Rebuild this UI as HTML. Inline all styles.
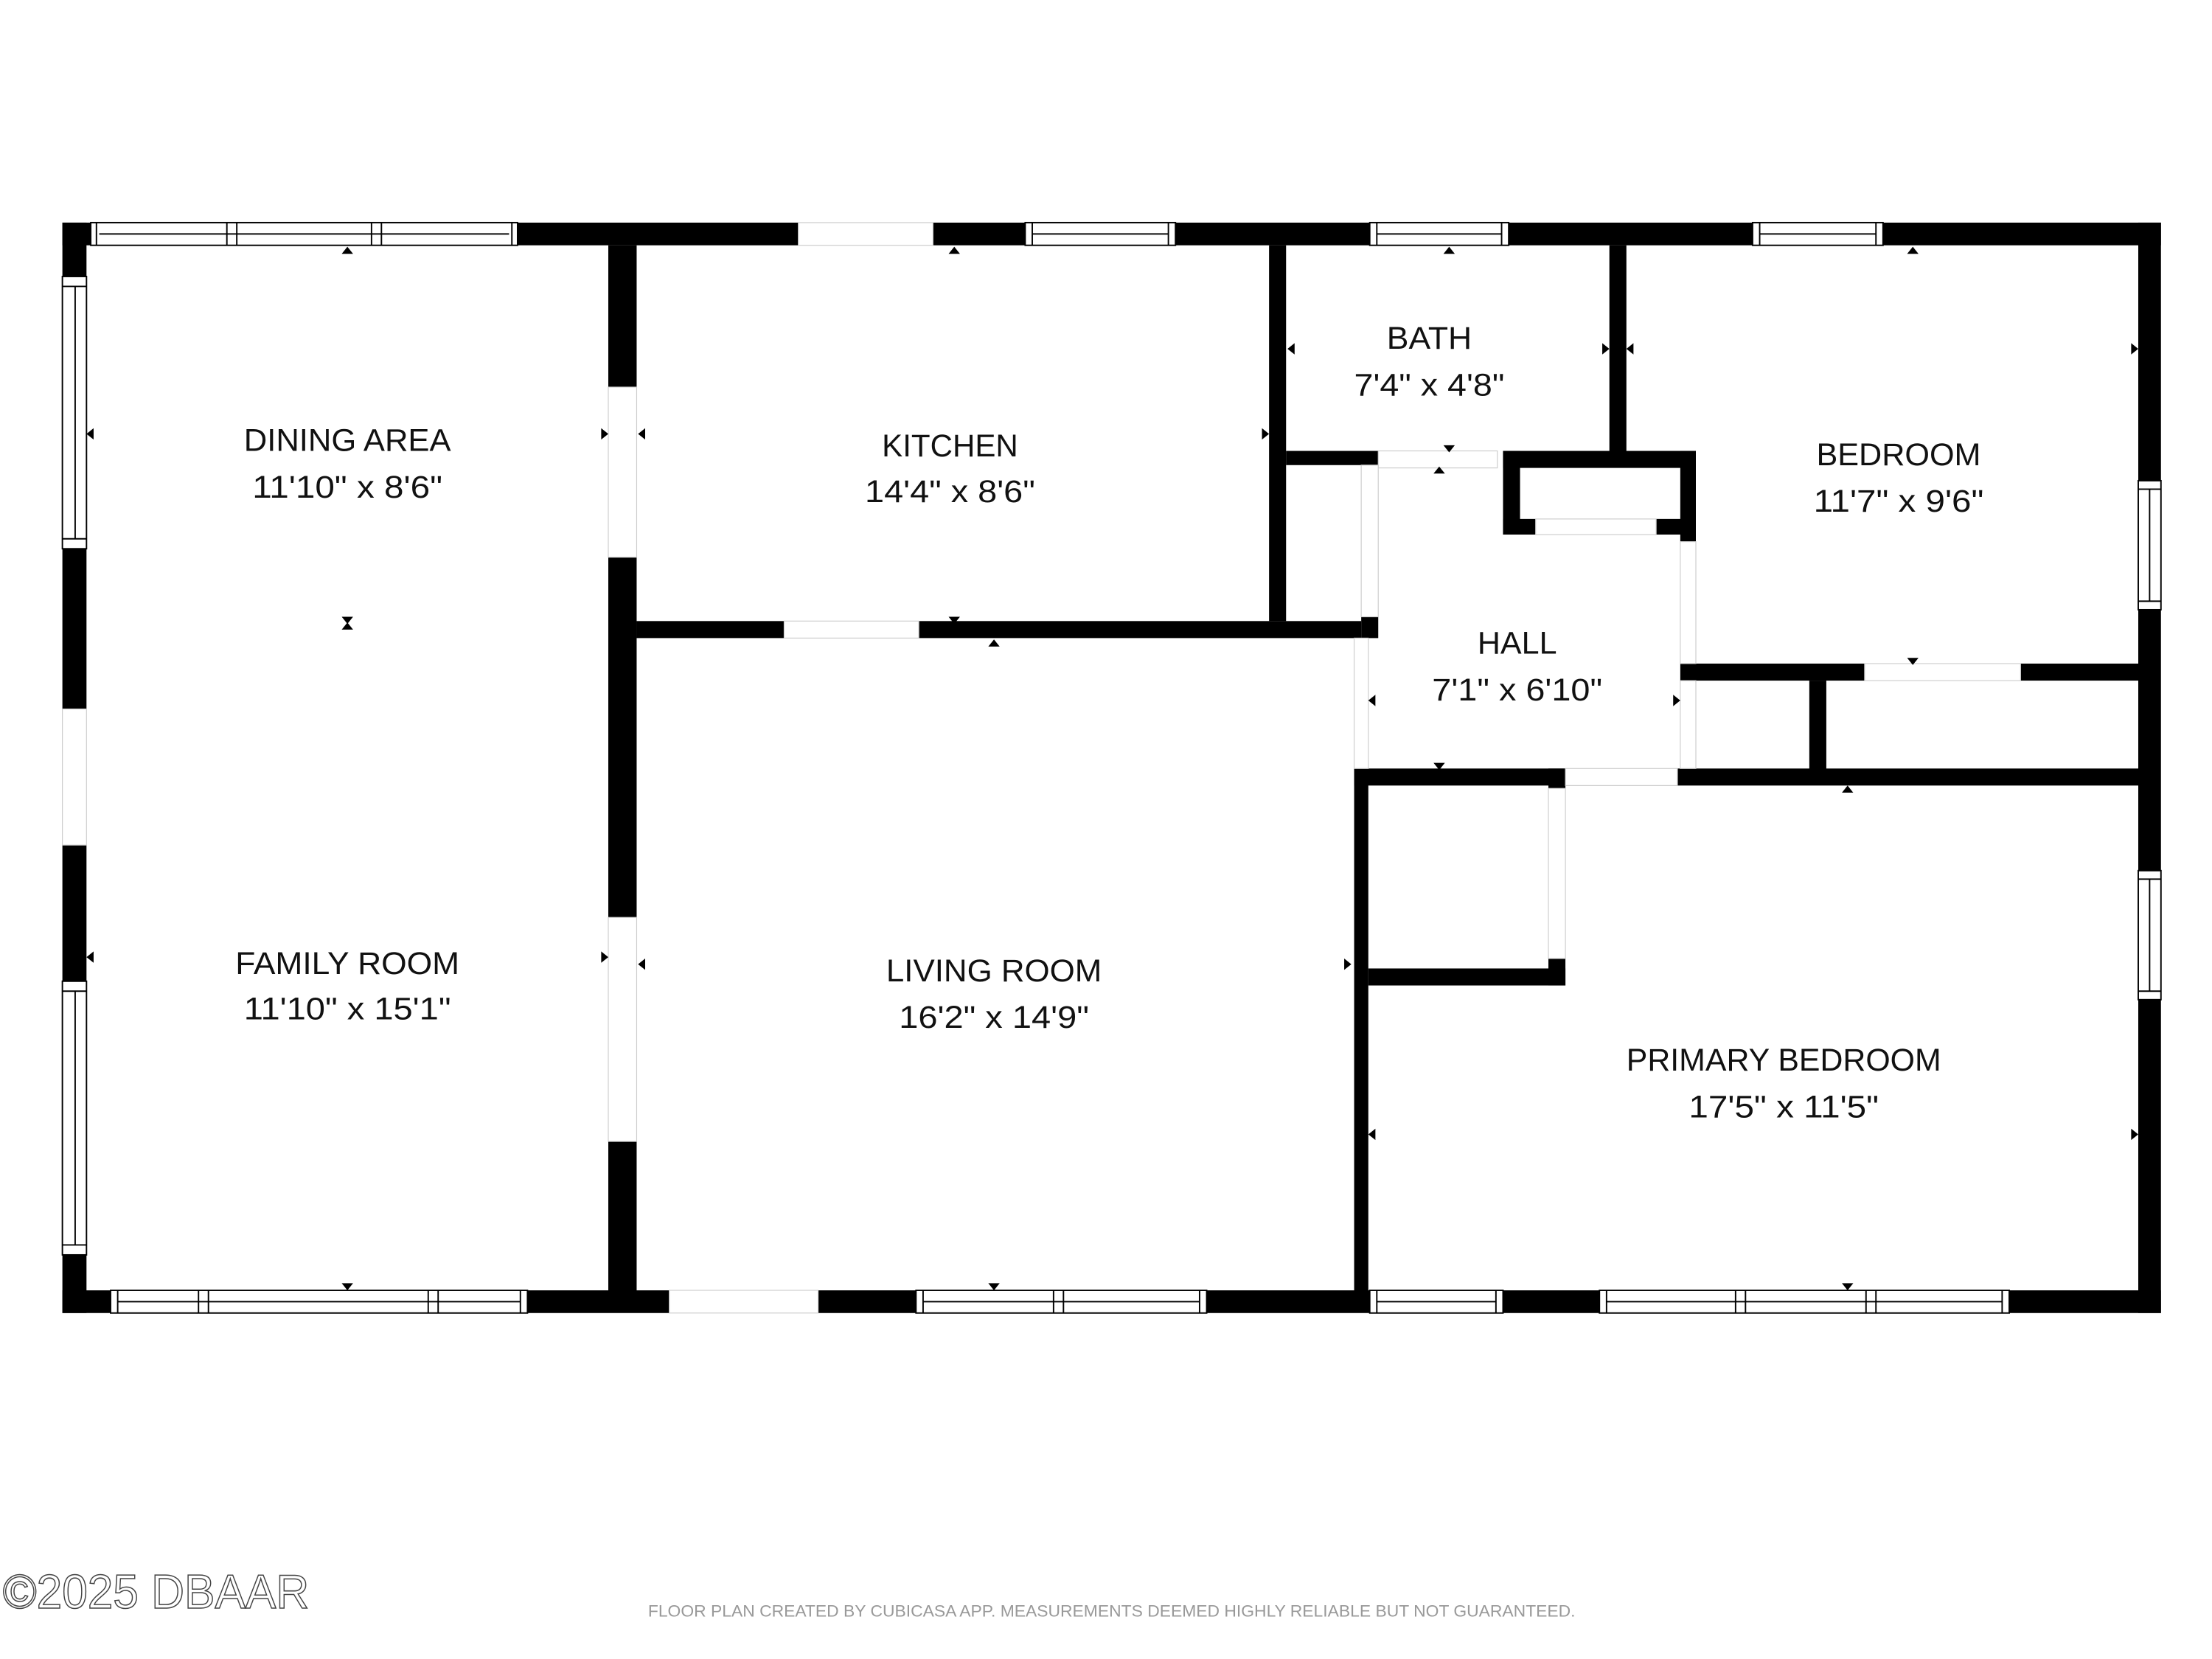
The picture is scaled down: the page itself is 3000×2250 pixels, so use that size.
<!DOCTYPE html>
<html><head><meta charset="utf-8"><style>
html,body{margin:0;padding:0;background:#fff;}
svg{display:block;}
.t{font-family:"Liberation Sans",sans-serif;font-size:22px;fill:#111;text-anchor:middle;}
.w{fill:#fff;stroke:#000;stroke-width:1;}
.o{fill:#fff;stroke:#ccc;stroke-width:0.6;}
</style></head><body>
<svg width="3000" height="2250" viewBox="0 0 1560 1170" xmlns="http://www.w3.org/2000/svg">
<rect width="1560" height="1170" fill="#fff"/>
<g fill="#000">
<!-- outer walls -->
<rect x="44" y="157" width="1480" height="16"/>
<rect x="44" y="910" width="1480" height="16"/>
<rect x="44" y="157" width="17" height="769"/>
<rect x="1508" y="157" width="16" height="769"/>
<!-- interior -->
<rect x="429" y="173" width="20" height="100"/>
<rect x="429" y="393" width="20" height="254"/>
<rect x="429" y="805" width="20" height="105"/>
<rect x="449" y="438" width="511" height="12"/>
<rect x="895" y="173" width="12" height="265"/>
<rect x="907" y="318" width="65" height="10"/>
<rect x="1060" y="318" width="136" height="12"/>
<rect x="1060" y="318" width="12" height="59"/>
<rect x="1060" y="366" width="23" height="11"/>
<rect x="1185" y="318" width="11" height="64"/>
<rect x="1168" y="366" width="28" height="11"/>
<rect x="1135" y="173" width="12" height="152"/>
<rect x="960" y="435" width="12" height="15"/>
<rect x="1185" y="468" width="130" height="12"/>
<rect x="1425" y="468" width="83" height="12"/>
<rect x="1276" y="480" width="12" height="68"/>
<rect x="955" y="542" width="149" height="12"/>
<rect x="1183" y="542" width="325" height="12"/>
<rect x="955" y="542" width="10" height="368"/>
<rect x="965" y="683" width="139" height="12"/>
<rect x="1092" y="676" width="12" height="19"/>
<rect x="1092" y="542" width="12" height="14"/>
</g>
<!-- openings -->
<rect class="o" x="563" y="157" width="95" height="16"/>
<rect class="o" x="44" y="500" width="17" height="96"/>
<rect class="o" x="472" y="910" width="105" height="16"/>
<rect class="o" x="553" y="438" width="95" height="12"/>
<rect class="o" x="429" y="273" width="20" height="120"/>
<rect class="o" x="429" y="647" width="20" height="158"/>
<rect class="o" x="972" y="318" width="84" height="12"/>
<rect class="o" x="960" y="328" width="12" height="107"/>
<rect class="o" x="955" y="450" width="10" height="92"/>
<rect class="o" x="1185" y="382" width="11" height="86"/>
<rect class="o" x="1185" y="480" width="11" height="62"/>
<rect class="o" x="1315" y="468" width="110" height="12"/>
<rect class="o" x="1104" y="542" width="79" height="12"/>
<rect class="o" x="1092" y="556" width="12" height="120"/>
<rect class="o" x="1083" y="366" width="85" height="11"/>
<!-- windows top -->
<g>
<rect class="w" x="64" y="157" width="301" height="16"/>
<line x1="70" y1="165" x2="359" y2="165" stroke="#000"/>
<line x1="68" y1="157" x2="68" y2="173" stroke="#000"/>
<line x1="361" y1="157" x2="361" y2="173" stroke="#000"/>
<line x1="160" y1="157" x2="160" y2="173" stroke="#000"/><line x1="167" y1="157" x2="167" y2="173" stroke="#000"/>
<line x1="262" y1="157" x2="262" y2="173" stroke="#000"/><line x1="269" y1="157" x2="269" y2="173" stroke="#000"/>
<rect class="w" x="723" y="157" width="106" height="16"/><line x1="728" y1="165" x2="824" y2="165" stroke="#000"/>
<line x1="728" y1="157" x2="728" y2="173" stroke="#000"/><line x1="824" y1="157" x2="824" y2="173" stroke="#000"/>
<rect class="w" x="966" y="157" width="98" height="16"/><line x1="971" y1="165" x2="1059" y2="165" stroke="#000"/>
<line x1="971" y1="157" x2="971" y2="173" stroke="#000"/><line x1="1059" y1="157" x2="1059" y2="173" stroke="#000"/>
<rect class="w" x="1236" y="157" width="92" height="16"/><line x1="1241" y1="165" x2="1323" y2="165" stroke="#000"/>
<line x1="1241" y1="157" x2="1241" y2="173" stroke="#000"/><line x1="1323" y1="157" x2="1323" y2="173" stroke="#000"/>
</g>
<!-- windows bottom -->
<g>
<rect class="w" x="78" y="910" width="294" height="16"/><line x1="83" y1="918" x2="367" y2="918" stroke="#000"/>
<line x1="83" y1="910" x2="83" y2="926" stroke="#000"/><line x1="367" y1="910" x2="367" y2="926" stroke="#000"/>
<line x1="140" y1="910" x2="140" y2="926" stroke="#000"/><line x1="147" y1="910" x2="147" y2="926" stroke="#000"/>
<line x1="302" y1="910" x2="302" y2="926" stroke="#000"/><line x1="309" y1="910" x2="309" y2="926" stroke="#000"/>
<rect class="w" x="646" y="910" width="205" height="16"/><line x1="651" y1="918" x2="846" y2="918" stroke="#000"/>
<line x1="651" y1="910" x2="651" y2="926" stroke="#000"/><line x1="846" y1="910" x2="846" y2="926" stroke="#000"/>
<line x1="743" y1="910" x2="743" y2="926" stroke="#000"/><line x1="750" y1="910" x2="750" y2="926" stroke="#000"/>
<rect class="w" x="966" y="910" width="94" height="16"/><line x1="971" y1="918" x2="1055" y2="918" stroke="#000"/>
<line x1="971" y1="910" x2="971" y2="926" stroke="#000"/><line x1="1055" y1="910" x2="1055" y2="926" stroke="#000"/>
<rect class="w" x="1128" y="910" width="289" height="16"/><line x1="1133" y1="918" x2="1412" y2="918" stroke="#000"/>
<line x1="1133" y1="910" x2="1133" y2="926" stroke="#000"/><line x1="1412" y1="910" x2="1412" y2="926" stroke="#000"/>
<line x1="1224" y1="910" x2="1224" y2="926" stroke="#000"/><line x1="1231" y1="910" x2="1231" y2="926" stroke="#000"/>
<line x1="1316" y1="910" x2="1316" y2="926" stroke="#000"/><line x1="1323" y1="910" x2="1323" y2="926" stroke="#000"/>
</g>
<!-- windows left/right -->
<g>
<rect class="w" x="44" y="195" width="17" height="192"/><line x1="53" y1="202" x2="53" y2="380" stroke="#000"/>
<line x1="44" y1="202" x2="61" y2="202" stroke="#000"/><line x1="44" y1="380" x2="61" y2="380" stroke="#000"/>
<rect class="w" x="44" y="692" width="17" height="193"/><line x1="53" y1="699" x2="53" y2="878" stroke="#000"/>
<line x1="44" y1="699" x2="61" y2="699" stroke="#000"/><line x1="44" y1="878" x2="61" y2="878" stroke="#000"/>
<rect class="w" x="1508" y="339" width="16" height="91"/><line x1="1516" y1="345" x2="1516" y2="424" stroke="#000"/>
<line x1="1508" y1="345" x2="1524" y2="345" stroke="#000"/><line x1="1508" y1="424" x2="1524" y2="424" stroke="#000"/>
<rect class="w" x="1508" y="614" width="16" height="91"/><line x1="1516" y1="620" x2="1516" y2="699" stroke="#000"/>
<line x1="1508" y1="620" x2="1524" y2="620" stroke="#000"/><line x1="1508" y1="699" x2="1524" y2="699" stroke="#000"/>
</g>
<!-- small markers -->
<g fill="#000">
<path d="M241 179 l4 -5 l4 5z"/><path d="M241 435 l4 5 l4 -5z"/><path d="M241 444 l4 -5 l4 5z"/>
<path d="M241 905 l4 5 l4 -5z"/><path d="M669 179 l4 -5 l4 5z"/><path d="M669 435 l4 5 l4 -5z"/>
<path d="M697 456 l4 -5 l4 5z"/><path d="M697 905 l4 5 l4 -5z"/><path d="M1018 179 l4 -5 l4 5z"/>
<path d="M1018 314 l4 5 l4 -5z"/><path d="M1011 334 l4 -5 l4 5z"/><path d="M1345 179 l4 -5 l4 5z"/>
<path d="M1345 464 l4 5 l4 -5z"/><path d="M1011 538 l4 5 l4 -5z"/><path d="M1299 559 l4 -5 l4 5z"/>
<path d="M1299 905 l4 5 l4 -5z"/>
<path d="M66 302 l-5 4 l5 4z"/><path d="M424 302 l5 4 l-5 4z"/><path d="M455 302 l-5 4 l5 4z"/>
<path d="M890 302 l5 4 l-5 4z"/><path d="M913 242 l-5 4 l5 4z"/><path d="M1130 242 l5 4 l-5 4z"/>
<path d="M1152 242 l-5 4 l5 4z"/><path d="M1503 242 l5 4 l-5 4z"/><path d="M902 439 l5 4 l-5 4z"/>
<path d="M970 490 l-5 4 l5 4z"/><path d="M1180 490 l5 4 l-5 4z"/>
<path d="M66 671 l-5 4 l5 4z"/><path d="M424 671 l5 4 l-5 4z"/><path d="M455 676 l-5 4 l5 4z"/>
<path d="M948 676 l5 4 l-5 4z"/><path d="M970 796 l-5 4 l5 4z"/><path d="M1503 796 l5 4 l-5 4z"/>
<path d="M959 680 l5 4 l-5 4z"/>
</g>
<!-- labels -->
<g class="t">
<text x="245" y="318" textLength="146" lengthAdjust="spacingAndGlyphs">DINING AREA</text>
<text x="245" y="351" textLength="134" lengthAdjust="spacingAndGlyphs">11'10" x 8'6"</text>
<text x="670" y="322" textLength="96" lengthAdjust="spacingAndGlyphs">KITCHEN</text>
<text x="670" y="354" textLength="120" lengthAdjust="spacingAndGlyphs">14'4" x 8'6"</text>
<text x="1008" y="246" textLength="60" lengthAdjust="spacingAndGlyphs">BATH</text>
<text x="1008" y="279" textLength="106" lengthAdjust="spacingAndGlyphs">7'4" x 4'8"</text>
<text x="1339" y="328" textLength="116" lengthAdjust="spacingAndGlyphs">BEDROOM</text>
<text x="1339" y="361" textLength="120" lengthAdjust="spacingAndGlyphs">11'7" x 9'6"</text>
<text x="1070" y="461" textLength="56" lengthAdjust="spacingAndGlyphs">HALL</text>
<text x="1070" y="494" textLength="120" lengthAdjust="spacingAndGlyphs">7'1" x 6'10"</text>
<text x="245" y="687" textLength="158" lengthAdjust="spacingAndGlyphs">FAMILY ROOM</text>
<text x="245" y="719" textLength="146" lengthAdjust="spacingAndGlyphs">11'10" x 15'1"</text>
<text x="701" y="692" textLength="152" lengthAdjust="spacingAndGlyphs">LIVING ROOM</text>
<text x="701" y="725" textLength="134" lengthAdjust="spacingAndGlyphs">16'2" x 14'9"</text>
<text x="1258" y="755" textLength="222" lengthAdjust="spacingAndGlyphs">PRIMARY BEDROOM</text>
<text x="1258" y="788" textLength="134" lengthAdjust="spacingAndGlyphs">17'5" x 11'5"</text>
</g>
<text x="784" y="1140" font-family="Liberation Sans,sans-serif" font-size="11.5" fill="#999" text-anchor="middle" textLength="654" lengthAdjust="spacingAndGlyphs">FLOOR PLAN CREATED BY CUBICASA APP. MEASUREMENTS DEEMED HIGHLY RELIABLE BUT NOT GUARANTEED.</text>
<text x="2" y="1134" font-family="Liberation Sans,sans-serif" font-size="34" fill="#fff" stroke="#444" stroke-width="0.8" textLength="216" lengthAdjust="spacingAndGlyphs">©2025 DBAAR</text>
</svg>
</body></html>
